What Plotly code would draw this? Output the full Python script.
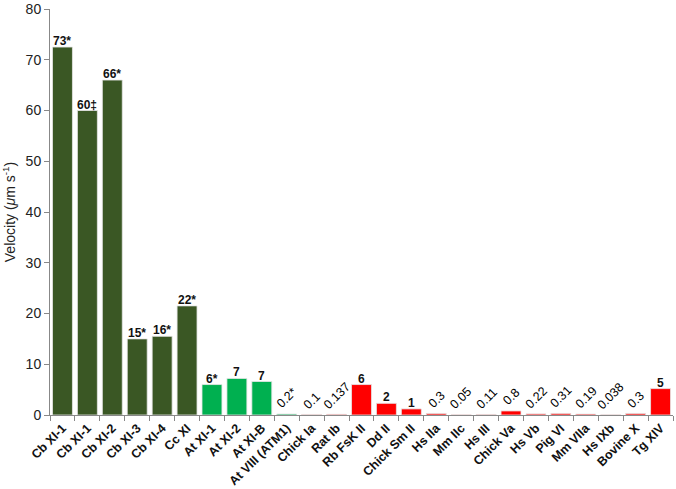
import plotly.graph_objects as go

# dados
categorias = ['Cb XI-1', 'Cb XI-1', 'Cb XI-2', 'Cb XI-3', 'Cb XI-4', 'Cc XI',
              'At XI-1', 'At XI-2', 'At XI-B', 'At VIII (ATM1)', 'Chick Ia', 'Rat Ib',
              'Rb FsK II', 'Dd II', 'Chick Sm II', 'Hs IIa', 'Mm IIc', 'Hs III',
              'Chick Va', 'Hs Vb', 'Pig VI', 'Mm VIIa', 'Hs IXb', 'Bovine X', 'Tg XIV']
velocidades = [72.5, 60.0, 66.0, 15.0, 15.5, 21.5,
               6.0, 7.2, 6.6, 0.2, 0.1, 0.137,
               6.0, 2.3, 1.2, 0.3, 0.05, 0.11,
               0.8, 0.22, 0.31, 0.19, 0.038, 0.3, 5.2]
rotulos = ['73*', '60‡', '66*', '15*', '16*', '22*',
           '6*', '7', '7', '0.2*', '0.1', '0.137',
           '6', '2', '1', '0.3', '0.05', '0.11',
           '0.8', '0.22', '0.31', '0.19', '0.038', '0.3', '5']
grupos = ['Cb', 'Cb', 'Cb', 'Cb', 'Cb', 'Cb',
          'At', 'At', 'At', 'At', 'outro', 'outro',
          'outro', 'outro', 'outro', 'outro', 'outro', 'outro',
          'outro', 'outro', 'outro', 'outro', 'outro', 'outro', 'outro']

cores = {'Cb': '#3A5724', 'At': '#00B050', 'outro': '#FF0000'}

# categorias repetidas precisam de chave única no eixo categórico
chaves = []
for c in categorias:
    k = c
    while k in chaves:
        k = k + '\u200b'
    chaves.append(k)

fig = go.Figure()
fig.add_trace(go.Bar(
    x=chaves, y=velocidades,
    marker=dict(color=[cores[g] for g in grupos],
                line=dict(color='rgba(230,230,230,0.8)', width=1)),
    width=0.8,
))

anotacoes = []
for k, v, r in zip(chaves, velocidades, rotulos):
    if v < 1:
        anotacoes.append(dict(x=k, y=v, text=r, showarrow=False, textangle=-45,
                              xanchor='center', yanchor='bottom', yshift=0,
                              font=dict(family='Liberation Sans', size=12.5, color='#000')))
    else:
        anotacoes.append(dict(x=k, y=v, text='<b>%s</b>' % r, showarrow=False,
                              xanchor='center', yanchor='bottom', yshift=-3,
                              font=dict(family='Liberation Sans', size=12, color='#111')))

fig.update_layout(
    width=676, height=489,
    plot_bgcolor='white', paper_bgcolor='white',
    showlegend=False,
    margin=dict(l=50, r=3, t=9, b=74),
    font=dict(family='Liberation Sans', size=13, color='#222'),
    annotations=anotacoes,
)
fig.update_xaxes(
    type='category', tickangle=-45, tickson='boundaries', ticks='outside',
    ticklen=5, tickcolor='#888', showline=True, linecolor='#888', linewidth=1,
    showgrid=False, automargin=False,
    tickfont=dict(family='Liberation Sans', size=12.5, color='#111', weight='bold'),
)
fig.update_yaxes(
    range=[0, 80], dtick=10, ticks='outside', ticklen=5, tickcolor='#888',
    showline=True, linecolor='#888', linewidth=1, showgrid=False, zeroline=False,
    automargin=False,
    tickfont=dict(family='Liberation Sans', size=14, color='#222'),
    title=dict(text='Velocity (<i>μ</i>m s<sup>-1</sup>)', standoff=6,
               font=dict(family='Liberation Sans', size=14, color='#222')),
)

fig.write_html('out.html', config={'displayModeBar': False},
               post_script="document.body.style.margin='0';")
